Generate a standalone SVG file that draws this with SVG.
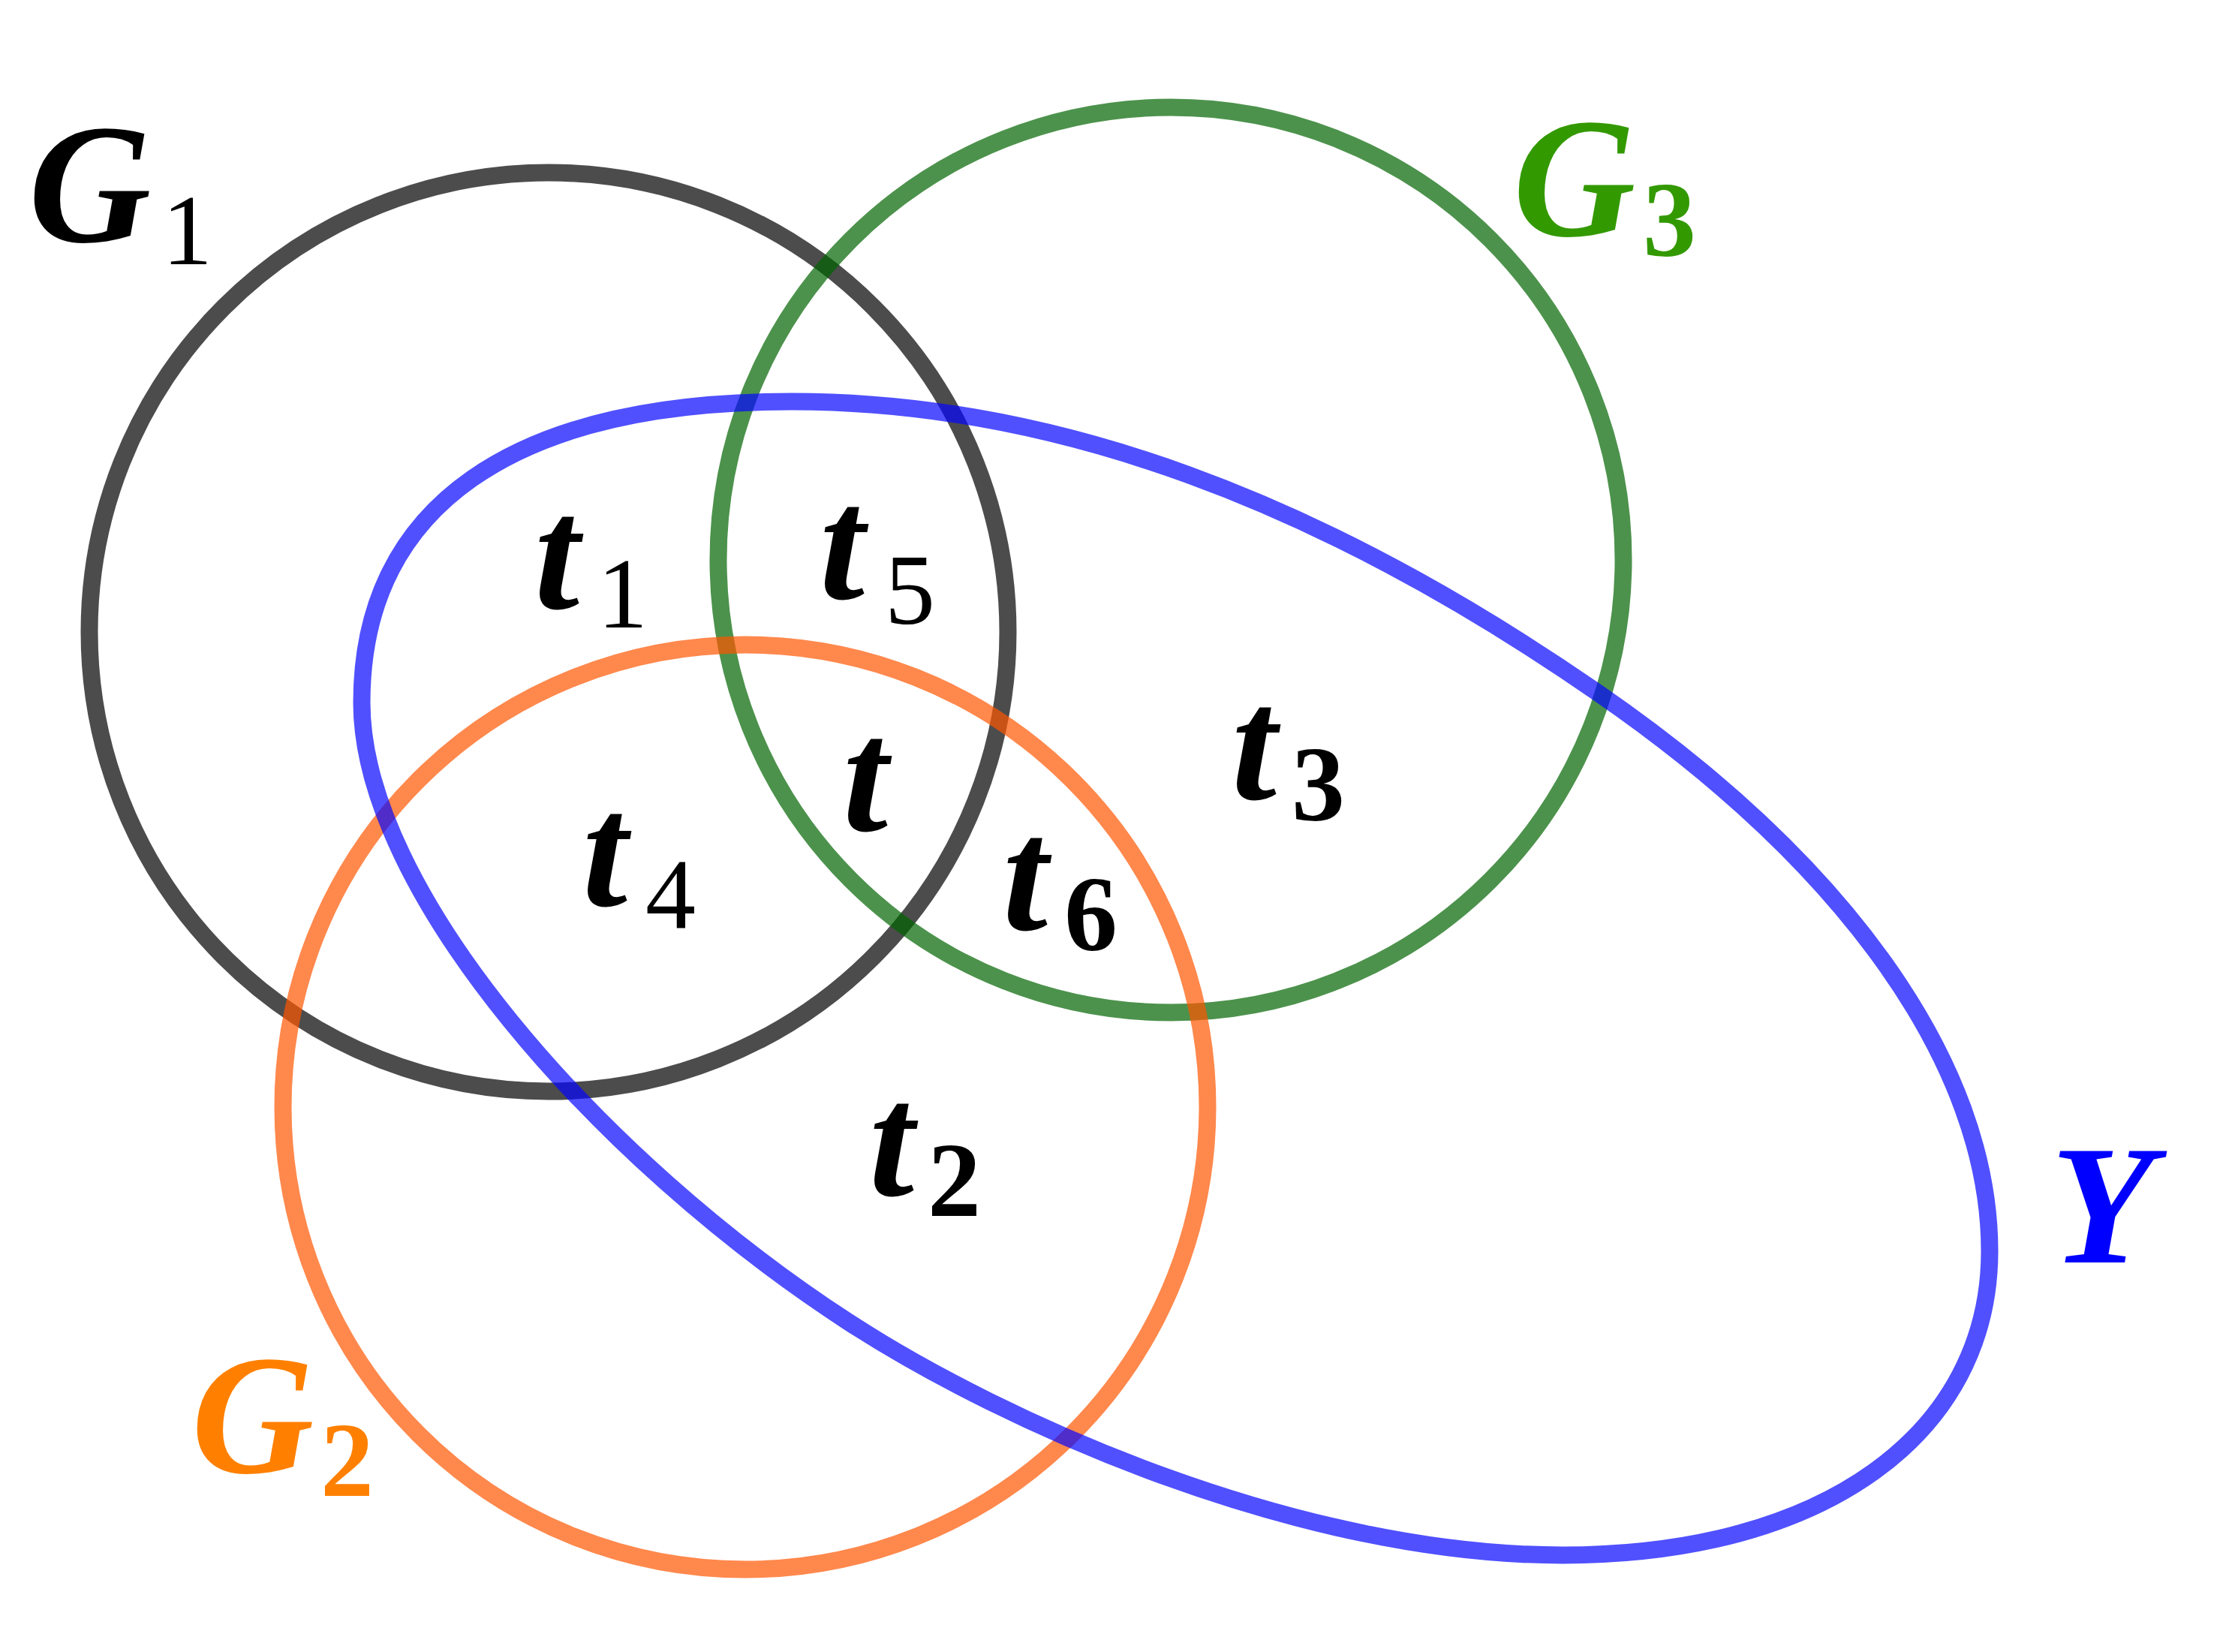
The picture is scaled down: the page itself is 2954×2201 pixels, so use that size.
<svg xmlns="http://www.w3.org/2000/svg" width="2954" height="2201" viewBox="0 0 2954 2201">
<style>
.set{fill:none;stroke-width:23;stroke-opacity:0.7}
.m{font-family:"Liberation Serif","Times New Roman",serif;font-style:italic;font-weight:bold;font-size:216px}
.g{font-size:226px}
.sb{font-family:"Liberation Serif","Times New Roman",serif;font-weight:bold;font-size:142px}
.sr{font-family:"Liberation Serif","Times New Roman",serif;font-weight:normal;font-size:134px}
</style>
<rect x="0" y="0" width="2954" height="2201" fill="#ffffff"/>
<g id="G1">
<circle class="set" cx="731" cy="842" r="612" stroke="#000000"/>
<text class="m g" x="38" y="322" fill="#000000">G</text>
<text class="sr" x="216" y="352" fill="#000000">1</text>
</g>
<g id="G3">
<circle class="set" cx="1560" cy="746" r="603" stroke="#006400"/>
<text class="m g" x="2016" y="314" fill="#339900">G</text>
<text class="sb" x="2189" y="341" fill="#339900">3</text>
</g>
<g id="G2">
<circle class="set" cx="993" cy="1475" r="616" stroke="#FF5600"/>
<text class="m g" x="255" y="1962" fill="#FF8000">G</text>
<text class="sb" x="427" y="1993" fill="#FF8000">2</text>
</g>
<g id="Y">
<path class="set" stroke="#0505FF" d="M 1055 535 C 683 535 482 675 482 936 C 482 1186 795 1543 1130 1761 C 1339.5 1897 1732 2072 2082 2072 C 2430 2072 2651 1910 2651 1667 C 2651 1417 2458 1150 2129 923 C 1759 667 1405 535 1055 535 Z"/>
<text class="m g" x="2732" y="1682" fill="#0000FF">Y</text>
</g>
<g id="labels" fill="#000000">
<g id="t1"><text class="m" x="712" y="810">t</text><text class="sr" x="796" y="836">1</text></g>
<g id="t5"><text class="m" x="1092" y="797">t</text><text class="sr" x="1179" y="831">5</text></g>
<g id="t"><text class="m" x="1123" y="1106">t</text></g>
<g id="t3"><text class="m" x="1641" y="1064">t</text><text class="sb" x="1721" y="1093">3</text></g>
<g id="t4"><text class="m" x="776" y="1206">t</text><text class="sr" x="860" y="1236">4</text></g>
<g id="t6"><text class="m" x="1336" y="1238">t</text><text class="sb" x="1418" y="1266">6</text></g>
<g id="t2"><text class="m" x="1158" y="1592">t</text><text class="sb" x="1236" y="1620">2</text></g>
</g>
</svg>
